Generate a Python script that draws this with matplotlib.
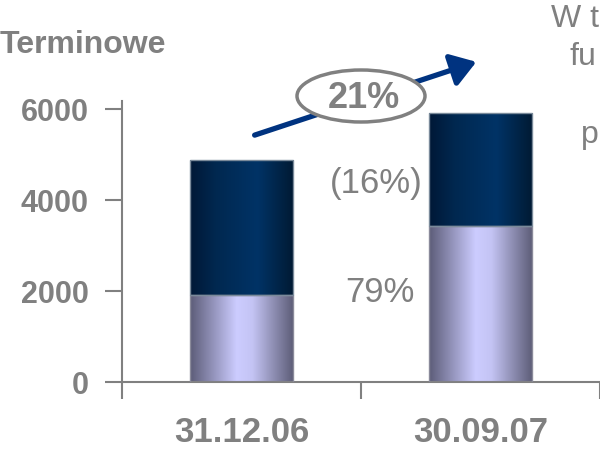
import numpy as np
import matplotlib
matplotlib.use("Agg")
import matplotlib.pyplot as plt
from matplotlib.colors import LinearSegmentedColormap
from matplotlib.patches import Ellipse, FancyArrowPatch

plt.rcParams['font.family'] = ['Liberation Sans', 'DejaVu Sans']

categories = ["31.12.06", "30.09.07"]
lower = [1910, 3430]   # light segment
upper = [2970, 2480]   # dark segment
yticks = [0, 2000, 4000, 6000]
title = "Terminowe"
growth_total = "21%"
growth_upper = "(16%)"
growth_lower = "79%"

GRAY = "#808080"
fig = plt.figure(figsize=(6.0, 4.52), dpi=100)
ax = fig.add_axes([122/600, 69/452, 478/600, 281/452])

x = np.arange(len(categories))
w = 0.435
b1 = ax.bar(x, lower, width=w, color="none", edgecolor="#8a8a9a", linewidth=1.0, zorder=3)
b2 = ax.bar(x, upper, width=w, bottom=lower, color="none", edgecolor="#7a8a9a", linewidth=1.0, zorder=3)

cm_low = LinearSegmentedColormap.from_list("low", [(0, "#5c5c78"), (0.45, "#ccccff"), (0.6, "#c4c4f4"), (1, "#5c5c76")])
cm_up = LinearSegmentedColormap.from_list("up", [(0, "#001836"), (0.25, "#002850"), (0.65, "#003366"), (1, "#001a33")])
grad = np.linspace(0, 1, 256).reshape(1, -1)
for bars, cm in ((b1, cm_low), (b2, cm_up)):
    for p in bars:
        x0, y0 = p.get_x(), p.get_y()
        im = ax.imshow(grad, cmap=cm, aspect="auto", extent=(x0, x0 + p.get_width(), y0, y0 + p.get_height()),
                       zorder=2, interpolation="bilinear")
        im.set_clip_path(p)

ax.set_xlim(-0.5, 1.447)
ax.set_ylim(0, 6170)
ax.set_yticks(yticks)
ax.set_yticklabels([str(v) for v in yticks], fontsize=22, fontweight="bold", color=GRAY)
ax.set_xticks([-0.5, 0.5, 1.5])
ax.set_xticklabels([])
ax.set_xticks(x, minor=True)
ax.set_xticklabels(categories, minor=True, fontsize=25, fontweight="bold", color=GRAY)
ax.tick_params(axis="x", which="minor", length=0, pad=23.5)
ax.tick_params(axis="both", which="major", length=12, width=1.5, color=GRAY, direction="out")
ax.tick_params(axis="y", pad=12)
for s in ("top", "right"):
    ax.spines[s].set_visible(False)
for s in ("left", "bottom"):
    ax.spines[s].set_color(GRAY)
    ax.spines[s].set_linewidth(1.5)

# annotations in figure pixel coords
def fx(px): return px / 600
def fy(py): return 1 - py / 452

arrow = FancyArrowPatch((fx(252), fy(137)), (fx(479), fy(62)), transform=fig.transFigure,
                        arrowstyle="-|>,head_length=0.75,head_width=0.5", mutation_scale=20,
                        color="#003380", linewidth=3.8, zorder=5)
fig.add_artist(arrow)
ell = Ellipse((fx(361), fy(97)), 128/600, 52/452, transform=fig.transFigure,
              facecolor="white", edgecolor=GRAY, linewidth=2.5, zorder=6)
fig.add_artist(ell)
fig.text(fx(364), fy(98), growth_total, fontsize=26, fontweight="bold", color=GRAY,
         ha="center", va="center", zorder=7)
fig.text(fx(376), fy(184), growth_upper, fontsize=25, color=GRAY, ha="center", va="center")
fig.text(fx(380), fy(293), growth_lower, fontsize=25, color=GRAY, ha="center", va="center")
fig.text(fx(0), fy(45), title, fontsize=23, fontweight="bold", color=GRAY, ha="left", va="center")

fig.text(fx(551), fy(27), "W t", fontsize=23, color=GRAY, ha="left", va="baseline")
fig.text(fx(570), fy(65), "fu", fontsize=23, color=GRAY, ha="left", va="baseline")
fig.text(fx(581), fy(143), "p", fontsize=23, color=GRAY, ha="left", va="baseline")

fig.savefig("out.png", dpi=100)
